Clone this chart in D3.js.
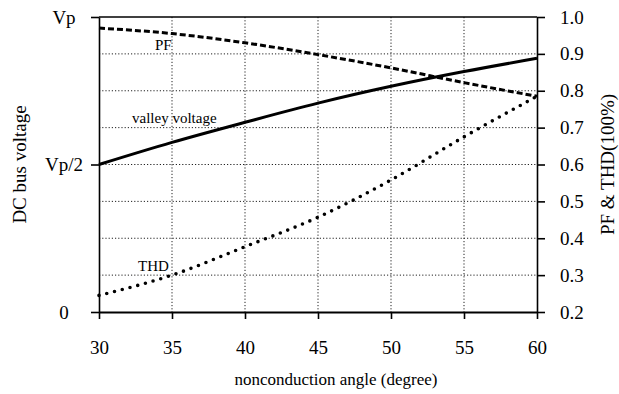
<!DOCTYPE html>
<html>
<head>
<meta charset="utf-8">
<script src="https://cdn.jsdelivr.net/npm/d3@7"></script>
<style>
  body { margin: 0; background: #fff; }
  text { font-family: "Liberation Serif", "DejaVu Serif", serif; fill: #000; }
</style>
</head>
<body>
<svg id="chart" width="619" height="394"></svg>
<script>
// values
const angles = [30, 35, 40, 45, 50, 55, 60];
const valley = [0.50, 0.575, 0.643, 0.708, 0.765, 0.815, 0.86];   // in units of Vp
const pf     = [0.970, 0.955, 0.930, 0.898, 0.862, 0.822, 0.785];
const thd    = [0.245, 0.300, 0.377, 0.457, 0.558, 0.675, 0.785];

const xTicks = [30, 35, 40, 45, 50, 55, 60];
const rightTicks = [0.2, 0.3, 0.4, 0.5, 0.6, 0.7, 0.8, 0.9, 1.0];
const leftTicks = [0, 0.5, 1];
const leftTickLabels = ["0", "Vp/2", "Vp"];

// plot box
const box = {left: 99, right: 537, top: 17, bottom: 312};

const svg = d3.select("#chart");

const x = d3.scaleLinear().domain([30, 60]).range([box.left, box.right]);
const yR = d3.scaleLinear().domain([0.2, 1.0]).range([box.bottom, box.top]);
const yL = d3.scaleLinear().domain([0, 1]).range([box.bottom, box.top]);

// grid
const grid = svg.append("g")
  .attr("stroke", "#222")
  .attr("stroke-width", 1)
  .attr("stroke-dasharray", "1.2 2");

grid.selectAll("line.v")
  .data(xTicks.slice(1, -1))
  .enter().append("line")
  .attr("class", "v")
  .attr("x1", d => x(d)).attr("x2", d => x(d))
  .attr("y1", box.top).attr("y2", box.bottom);

grid.selectAll("line.h")
  .data(rightTicks.slice(1, -1))
  .enter().append("line")
  .attr("class", "h")
  .attr("x1", box.left).attr("x2", box.right)
  .attr("y1", d => yR(d)).attr("y2", d => yR(d));

// axes
const xAxis = svg.append("g")
  .attr("transform", `translate(0,${box.bottom})`)
  .call(d3.axisBottom(x).tickValues(xTicks).tickSize(7).tickPadding(22).tickSizeOuter(0));

const rAxis = svg.append("g")
  .attr("transform", `translate(${box.right},0)`)
  .call(d3.axisRight(yR).tickValues(rightTicks).tickSize(8).tickPadding(15)
        .tickFormat(d3.format(".1f")).tickSizeOuter(0));

const lAxis = svg.append("g")
  .attr("transform", `translate(${box.left},0)`)
  .call(d3.axisLeft(yL).tickValues(leftTicks).tickSize(8).tickPadding(0)
        .tickFormat((d, i) => leftTickLabels[i]).tickSizeOuter(0));

[xAxis, rAxis, lAxis].forEach(a => {
  a.attr("font-family", null);
  a.select(".domain").attr("stroke", "#000").attr("stroke-width", 1.6);
  a.selectAll(".tick line").attr("stroke", "#000").attr("stroke-width", 1.6);
  a.selectAll(".tick text").attr("font-size", 19).attr("fill", "#000");
});
xAxis.select(".domain").attr("stroke-width", 2.2);

// left labels centred in their column
lAxis.selectAll(".tick text")
  .attr("text-anchor", "middle")
  .attr("x", -35);

// top border
svg.append("line")
  .attr("x1", box.left).attr("x2", box.right)
  .attr("y1", box.top).attr("y2", box.top)
  .attr("stroke", "#000").attr("stroke-width", 1.6);

// curves
const lineR = d3.line()
  .x((d, i) => x(angles[i]))
  .y(d => yR(d))
  .curve(d3.curveMonotoneX);
const lineL = d3.line()
  .x((d, i) => x(angles[i]))
  .y(d => yL(d))
  .curve(d3.curveMonotoneX);

svg.append("path")
  .attr("d", lineL(valley))
  .attr("fill", "none").attr("stroke", "#000").attr("stroke-width", 3);

svg.append("path")
  .attr("d", lineR(pf))
  .attr("fill", "none").attr("stroke", "#000").attr("stroke-width", 3)
  .attr("stroke-dasharray", "6 3");

svg.append("path")
  .attr("d", lineR(thd))
  .attr("fill", "none").attr("stroke", "#000").attr("stroke-width", 3.6)
  .attr("stroke-linecap", "round")
  .attr("stroke-dasharray", "0 8");

// curve labels
const labels = [
  {t: "PF", x: 155, y: 50},
  {t: "valley voltage", x: 132, y: 123},
  {t: "THD", x: 138, y: 271}
];
svg.selectAll("text.lab")
  .data(labels)
  .enter().append("text")
  .attr("class", "lab")
  .attr("x", d => d.x).attr("y", d => d.y)
  .attr("font-size", 15)
  .text(d => d.t);

// axis titles
svg.append("text")
  .attr("x", (box.left + box.right) / 2 + 18).attr("y", 385)
  .attr("text-anchor", "middle")
  .attr("font-size", 17)
  .text("nonconduction angle (degree)");

svg.append("text")
  .attr("transform", `translate(26,${(box.top + box.bottom) / 2}) rotate(-90)`)
  .attr("text-anchor", "middle")
  .attr("font-size", 19)
  .text("DC bus voltage");

svg.append("text")
  .attr("transform", `translate(614,${(box.top + box.bottom) / 2}) rotate(-90)`)
  .attr("text-anchor", "middle")
  .attr("font-size", 19)
  .text("PF & THD(100%)");
</script>
</body>
</html>
